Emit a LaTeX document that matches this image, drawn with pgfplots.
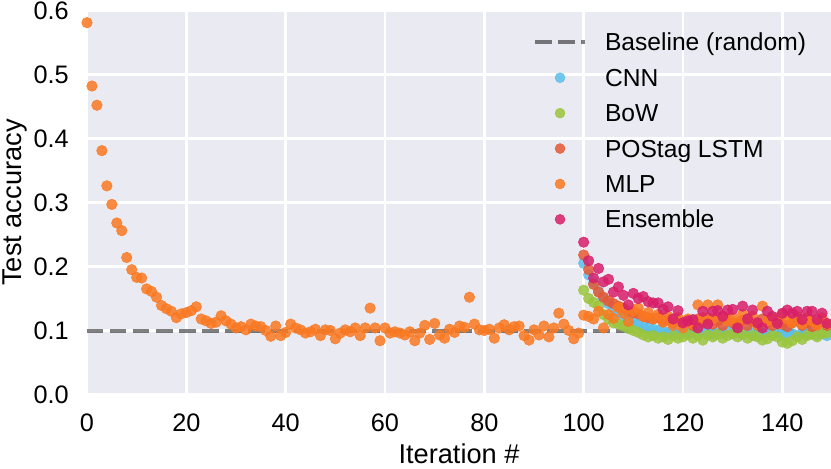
\documentclass[border=0pt]{standalone}
\usepackage{fontspec}
\setmainfont{Liberation Sans}
\usepackage{pgfplots}
\pgfplotsset{compat=1.18}
\usepackage{pgfplotstable}
\usetikzlibrary{calc}
\definecolor{bgc}{HTML}{EAEAF2}
\definecolor{cnn}{HTML}{5BC0EB}
\definecolor{bow}{HTML}{9BC53D}
\definecolor{pos}{HTML}{E55934}
\definecolor{mlp}{HTML}{FA7921}
\definecolor{ens}{HTML}{D81E6A}
\newcommand{\fs}{\fontsize{24.6bp}{29bp}\selectfont}
\newcommand{\fst}{\fontsize{25.3bp}{30bp}\selectfont}
\newcommand{\fsl}{\fontsize{27.2bp}{32bp}\selectfont}
\pgfplotsset{
  markleg/.style={legend image code/.code={\path (0bp,0bp) (50bp,0bp); \draw[##1, mark size=5bp] plot coordinates {(25bp,0bp)};}},
  lineleg/.style={legend image code/.code={\path (0bp,0bp) (50bp,0bp); \draw[##1] (0bp,0bp) -- (50bp,0bp);}},
}

\pgfplotstableread{
x y
0 0.581
1 0.482
2 0.452
3 0.381
4 0.326
5 0.297
6 0.268
7 0.256
8 0.214
9 0.195
10 0.183
11 0.182
12 0.165
13 0.161
14 0.152
15 0.139
16 0.134
17 0.130
18 0.120
19 0.126
20 0.128
21 0.131
22 0.137
23 0.118
24 0.115
25 0.111
26 0.113
27 0.123
28 0.115
29 0.110
30 0.104
31 0.106
32 0.101
33 0.110
34 0.107
35 0.106
36 0.100
37 0.091
38 0.107
39 0.092
40 0.097
41 0.110
42 0.104
43 0.101
44 0.096
45 0.098
46 0.102
47 0.092
48 0.101
49 0.100
50 0.087
51 0.096
52 0.101
53 0.098
54 0.104
55 0.092
56 0.104
57 0.135
58 0.104
59 0.084
60 0.104
61 0.096
62 0.098
63 0.096
64 0.093
65 0.098
66 0.084
67 0.096
68 0.108
69 0.086
70 0.111
71 0.093
72 0.088
73 0.102
74 0.097
75 0.107
76 0.105
77 0.152
78 0.110
79 0.101
80 0.100
81 0.102
82 0.088
83 0.104
84 0.109
85 0.101
86 0.106
87 0.107
88 0.092
89 0.085
90 0.101
91 0.093
92 0.107
93 0.090
94 0.104
95 0.127
96 0.110
97 0.100
98 0.087
99 0.096
100 0.124
101 0.122
102 0.118
103 0.130
104 0.104
105 0.125
106 0.119
107 0.136
108 0.127
109 0.114
110 0.130
111 0.135
112 0.122
113 0.128
114 0.118
115 0.125
116 0.113
117 0.122
118 0.108
119 0.120
120 0.104
121 0.118
122 0.110
123 0.140
124 0.120
125 0.140
126 0.118
127 0.140
128 0.122
129 0.115
130 0.120
131 0.112
132 0.125
133 0.118
134 0.122
135 0.108
136 0.138
137 0.115
138 0.120
139 0.110
140 0.125
141 0.118
142 0.112
143 0.122
144 0.110
145 0.120
146 0.115
147 0.108
148 0.120
149 0.110
}\mlpdata

\pgfplotstableread{
x y
100 0.205
101 0.187
102 0.174
103 0.161
104 0.150
105 0.142
106 0.135
107 0.128
108 0.122
109 0.118
110 0.113
111 0.110
112 0.106
113 0.104
114 0.102
115 0.100
116 0.099
117 0.097
118 0.098
119 0.096
120 0.097
121 0.095
122 0.098
123 0.096
124 0.099
125 0.097
126 0.094
127 0.098
128 0.096
129 0.099
130 0.095
131 0.097
132 0.094
133 0.098
134 0.096
135 0.092
136 0.095
137 0.097
138 0.094
139 0.096
140 0.093
141 0.097
142 0.095
143 0.092
144 0.096
145 0.094
146 0.097
147 0.093
148 0.095
149 0.092
}\cnndata

\pgfplotstableread{
x y
100 0.163
101 0.150
102 0.144
103 0.138
104 0.125
105 0.118
106 0.112
107 0.110
108 0.107
109 0.103
110 0.100
111 0.097
112 0.093
113 0.090
114 0.092
115 0.088
116 0.090
117 0.086
118 0.092
119 0.088
120 0.090
121 0.094
122 0.088
123 0.092
124 0.085
125 0.093
126 0.090
127 0.094
128 0.088
129 0.092
130 0.095
131 0.090
132 0.094
133 0.088
134 0.092
135 0.090
136 0.085
137 0.087
138 0.092
139 0.090
140 0.082
141 0.080
142 0.084
143 0.090
144 0.086
145 0.092
146 0.094
147 0.090
148 0.095
149 0.096
}\bowdata

\pgfplotstableread{
x y
100 0.218
101 0.195
102 0.172
103 0.160
104 0.152
105 0.146
106 0.142
107 0.138
108 0.135
109 0.130
110 0.128
111 0.126
112 0.122
113 0.120
114 0.118
115 0.120
116 0.114
117 0.117
118 0.112
119 0.115
120 0.110
121 0.113
122 0.108
123 0.118
124 0.112
125 0.120
126 0.110
127 0.115
128 0.108
129 0.118
130 0.112
131 0.110
132 0.116
133 0.108
134 0.114
135 0.110
136 0.118
137 0.112
138 0.108
139 0.115
140 0.110
141 0.106
142 0.112
143 0.116
144 0.108
145 0.112
146 0.106
147 0.110
148 0.114
149 0.108
}\posdata

\pgfplotstableread{
x y
100 0.238
101 0.209
102 0.182
103 0.197
104 0.176
105 0.180
106 0.160
107 0.168
108 0.155
109 0.140
110 0.158
111 0.150
112 0.153
113 0.145
114 0.143
115 0.143
116 0.133
117 0.137
118 0.118
119 0.131
120 0.112
121 0.115
122 0.117
123 0.104
124 0.130
125 0.110
126 0.130
127 0.131
128 0.122
129 0.132
130 0.133
131 0.104
132 0.138
133 0.118
134 0.132
135 0.112
136 0.104
137 0.130
138 0.122
139 0.111
140 0.127
141 0.132
142 0.127
143 0.130
144 0.117
145 0.130
146 0.130
147 0.117
148 0.127
149 0.111
}\ensdata

\begin{document}
\begin{tikzpicture}
\begin{axis}[
  scale only axis, width=744bp, height=384bp,
  xmin=0, xmax=149.8, ymin=0, ymax=0.6,
  xtick={0,20,40,60,80,100,120,140},
  xticklabels={0,20,40,60,80,100,120,140},
  ytick={0,0.1,0.2,0.3,0.4,0.5,0.6},
  yticklabels={0.0,0.1,0.2,0.3,0.4,0.5,0.6},
  axis background/.style={fill=bgc},
  axis line style={draw=none},
  major tick length=0pt,
  grid=major,
  major grid style={white, line width=2.5bp},
  tick label style={font=\fst},
  xticklabel style={anchor=base, yshift=-37bp},
  yticklabel style={anchor=east, inner sep=0pt, xshift=-18bp},
  xlabel={Iteration \#},
  ylabel={Test accuracy},
  label style={font=\fsl},
  xlabel style={at={(axis description cs:0.5,-0.1789)}, anchor=base},
  ylabel style={at={(axis description cs:-0.0887,0.5)}, anchor=base},
  legend style={draw=none, fill=none, at={(axis description cs:0.5995,0.947)},
    anchor=north west, inner sep=0pt, outer sep=0pt, font=\fs,
    /tikz/column sep=18bp, /tikz/row sep=12.4bp,
    nodes={inner sep=0pt, text height=20bp, text depth=3bp}},
  legend cell align=left,
  markleg,
]
\addlegendimage{lineleg, black, opacity=0.5, line width=4bp, dash pattern=on 16.5bp off 6.5bp}
\addlegendentry{Baseline (random)}
\addplot[only marks, color=cnn, mark=*, mark size=5.3bp, mark options={draw=none, fill=cnn, fill opacity=0.85}] table {\cnndata};
\addlegendentry{CNN}
\addplot[only marks, color=bow, mark=*, mark size=5.3bp, mark options={draw=none, fill=bow, fill opacity=0.85}] table {\bowdata};
\addlegendentry{BoW}
\addplot[only marks, color=pos, mark=*, mark size=5.3bp, mark options={draw=none, fill=pos, fill opacity=0.85}] table {\posdata};
\addlegendentry{POStag LSTM}
\addplot[only marks, color=mlp, mark=*, mark size=5.3bp, mark options={draw=none, fill=mlp, fill opacity=0.85}] table {\mlpdata};
\addlegendentry{MLP}
\addplot[only marks, color=ens, mark=*, mark size=5.3bp, mark options={draw=none, fill=ens, fill opacity=0.85}] table {\ensdata};
\addlegendentry{Ensemble}
\addplot[forget plot, black, opacity=0.5, line width=4bp, dash pattern=on 16.5bp off 6.5bp] coordinates {(0,0.1) (150,0.1)};
\end{axis}
\pgfresetboundingbox
\path ($(current axis.south west)+(-87bp,-74.5bp)$) rectangle ($(current axis.north east)+(0bp,10.5bp)$);
\end{tikzpicture}
\end{document}
